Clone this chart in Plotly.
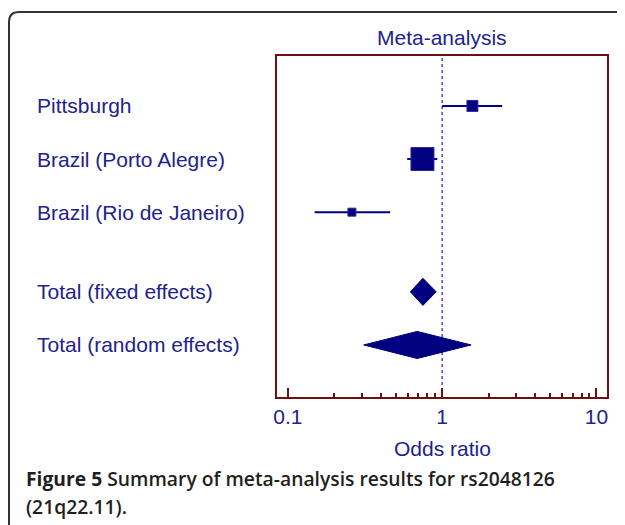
import plotly.graph_objects as go
import math

studies = ["Pittsburgh", "Brazil (Porto Alegre)", "Brazil (Rio de Janeiro)"]
study_or = [1.57, 0.745, 0.26]
study_lo = [1.0, 0.593, 0.149]
study_hi = [2.45, 0.93, 0.46]
study_pos = [0, 1, 2]
study_size = [11, 23, 8]

totals = ["Total (fixed effects)", "Total (random effects)"]
total_or = [0.75, 0.689]
total_lo = [0.622, 0.31]
total_hi = [0.914, 1.54]
total_pos = [3.5, 4.5]

major_ticks = [0.1, 1, 10]
major_text = ["0.1", "1", "10"]
minor_ticks = [0.2, 0.3, 0.4, 0.5, 0.6, 0.7, 0.8, 0.9, 2, 3, 4, 5, 6, 7, 8, 9]

NAVY = "#000080"
TXT = "#22228c"
MAROON = "#6e1010"
FONT = "Liberation Sans, Arial, sans-serif"

# page has an 8px body margin; work in reference pixel coordinates and shift
OFF = 8
W, H = 625 - OFF, 525 - OFF
L, R, T, B = 277 - OFF, 607 - OFF, 56 - OFF, 397 - OFF

fig = go.Figure()

for name, o, lo, hi, p, s in zip(studies, study_or, study_lo, study_hi, study_pos, study_size):
    fig.add_trace(go.Scatter(x=[lo, hi], y=[p, p], mode="lines",
                             line=dict(color=NAVY, width=2), hoverinfo="skip", showlegend=False))
    fig.add_trace(go.Scatter(x=[o], y=[p], mode="markers", name=name,
                             marker=dict(symbol="square", size=s, color=NAVY,
                                         line=dict(color="#2a2a9a", width=1)),
                             showlegend=False))

hh = 0.255
for name, o, lo, hi, p in zip(totals, total_or, total_lo, total_hi, total_pos):
    fig.add_trace(go.Scatter(x=[lo, o, hi, o, lo], y=[p, p - hh, p, p + hh, p],
                             mode="lines", fill="toself", fillcolor=NAVY,
                             line=dict(color=NAVY, width=1), name=name, showlegend=False))

# reference line at OR = 1
fig.add_shape(type="line", xref="x", yref="paper", x0=1, x1=1, y0=0, y1=1,
              line=dict(color="#4848d0", width=1.5, dash="dot"), layer="below")

lo_x = math.log10(0.085)
hi_x = math.log10(11.7)

fig.update_xaxes(type="log", range=[lo_x, hi_x],
                 tickvals=major_ticks, ticktext=major_text,
                 ticks="inside", ticklen=9, tickwidth=2, tickcolor=MAROON,
                 minor=dict(tickvals=minor_ticks, ticks="inside", ticklen=4, tickwidth=2,
                            tickcolor=MAROON, showgrid=False),
                 showline=True, linecolor=MAROON, linewidth=2, mirror=True,
                 showgrid=False, zeroline=False,
                 tickfont=dict(family=FONT, size=21, color=TXT))
fig.update_yaxes(range=[5.48, -0.94], showticklabels=False, ticks="",
                 showline=True, linecolor=MAROON, linewidth=2, mirror=True,
                 showgrid=False, zeroline=False)

def px_x(px):
    return (px - OFF - L) / (R - L)

def px_y(py):
    return (B - (py - OFF)) / (B - T)

annotations = []
for name, p in zip(studies + totals, study_pos + total_pos):
    annotations.append(dict(text=name, xref="paper", yref="y", x=px_x(35), y=p,
                            xanchor="left", yanchor="middle", showarrow=False,
                            font=dict(family=FONT, size=21, color=TXT)))
annotations.append(dict(text="Meta-analysis", xref="paper", yref="paper", x=px_x(442), y=px_y(37),
                        xanchor="center", yanchor="middle", showarrow=False,
                        font=dict(family=FONT, size=21, color=TXT)))
annotations.append(dict(text="Odds ratio", xref="paper", yref="paper", x=px_x(442), y=px_y(448),
                        xanchor="center", yanchor="middle", showarrow=False,
                        font=dict(family=FONT, size=21, color=TXT)))
cap_font = dict(family="Open Sans, sans-serif", size=19.3, color="#231f20", weight=600)
annotations.append(dict(text="<b>Figure 5</b> Summary of meta-analysis results for rs2048126",
                        xref="paper", yref="paper", x=px_x(24), y=px_y(478),
                        xanchor="left", yanchor="middle", align="left", showarrow=False,
                        font=cap_font))
annotations.append(dict(text="(21q22.11).",
                        xref="paper", yref="paper", x=px_x(24), y=px_y(506),
                        xanchor="left", yanchor="middle", align="left", showarrow=False,
                        font=cap_font))

# outer panel border with rounded corner
x0 = px_x(9); yb = px_y(530); yt = px_y(12); xr = px_x(625)
rx = 10 / (R - L); ry = 10 / (B - T)
path = (f"M {x0},{yb} L {x0},{yt - ry} Q {x0},{yt} {x0 + rx},{yt} L {xr},{yt}")
fig.add_shape(type="path", xref="paper", yref="paper", path=path,
              line=dict(color="#333333", width=2))

fig.update_layout(width=W, height=H, margin=dict(l=L, r=W - R, t=T, b=H - B),
                  paper_bgcolor="white", plot_bgcolor="white",
                  annotations=annotations, showlegend=False)

fig.write_html("out.html")
